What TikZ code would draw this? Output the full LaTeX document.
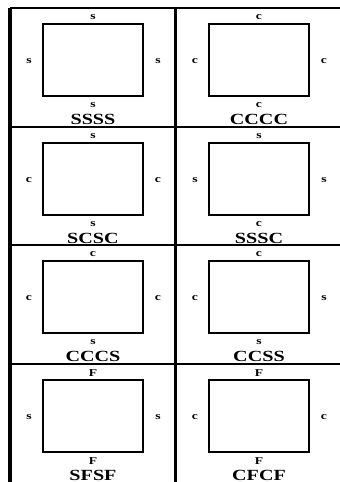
\documentclass[tikz,border=0pt]{standalone}
\usepackage{graphicx}
\usepackage{fontspec}
\setmainfont{Liberation Serif}
\tikzset{
  x=1pt, y=-1pt,
  gridline/.style={line width=2.6pt, black},
  rectbox/.style={draw, line width=1.8pt, minimum width=100pt, minimum height=72pt, inner sep=0pt},
  small/.style={inner sep=0pt, font=\fontsize{10.5}{12}\selectfont\bfseries},
  big/.style={inner sep=0pt, anchor=base, font=\fontsize{15.5}{17}\selectfont\bfseries},
}
\newcommand\widetxt[1]{\scalebox{1.3}[1]{#1}}
% name, cx, ry, top, left, right, bottom, label
\newcommand\panel[8]{%
  \node[rectbox] (#1) at (#2,#3+52) {};
  \node[small] (#1t) at (#2,#3+9) {\widetxt{#4}};
  \node[small] (#1l) at (#2-64,#3+53) {\widetxt{#5}};
  \node[small] (#1r) at (#2+65,#3+53) {\widetxt{#6}};
  \node[small] (#1b) at (#2,#3+97) {\widetxt{#7}};
  \node[big] (#1n) at (#2,#3+116) {\widetxt{#8}};
}
\begin{document}
\begin{tikzpicture}
\useasboundingbox (0,0) rectangle (340,482);
% grid
\coordinate (tl) at (10,8);
\coordinate (tr) at (340,8);
\coordinate (bl) at (10,482);
\coordinate (tm) at (175,8);
\coordinate (bm) at (175,482);
\coordinate (l1) at (10,127); \coordinate (r1) at (340,127);
\coordinate (l2) at (10,245); \coordinate (r2) at (340,245);
\coordinate (l3) at (10,364); \coordinate (r3) at (340,364);
\draw[gridline] (tl) -- (tr);
\draw[gridline] (l1) -- (r1);
\draw[gridline] (l2) -- (r2);
\draw[gridline] (l3) -- (r3);
\draw[gridline, line width=3.4pt] (tl) -- (bl);
\draw[gridline, line width=3pt] (tm) -- (bm);
% panels
\panel{pa}{93}{8}{s}{s}{s}{s}{SSSS}
\panel{pb}{259}{8}{c}{c}{c}{c}{CCCC}
\panel{pc}{93}{127}{s}{c}{c}{s}{SCSC}
\panel{pd}{259}{127}{s}{s}{s}{c}{SSSC}
\panel{pe}{93}{245}{c}{c}{c}{s}{CCCS}
\panel{pf}{259}{245}{c}{c}{s}{s}{CCSS}
\panel{pg}{93}{364}{F}{s}{s}{F}{SFSF}
\panel{ph}{259}{364}{F}{c}{c}{F}{CFCF}
\end{tikzpicture}
\end{document}
